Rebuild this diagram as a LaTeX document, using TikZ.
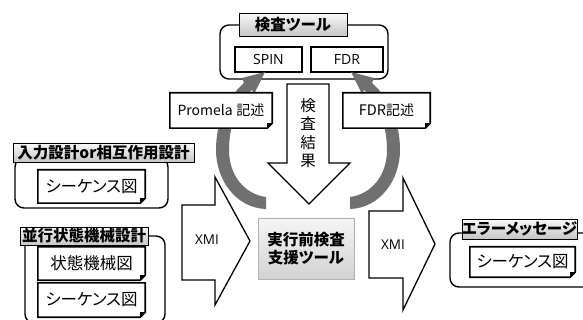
\documentclass[tikz,border=0pt]{standalone}
\usepackage{fontspec}
\setmainfont{Open Sans}
\newfontfamily\jp{Noto Sans CJK JP}[RawFeature=+palt]
\definecolor{arcgray}{RGB}{112,112,112}
\newcommand\fs[1]{\fontsize{#1}{#1}\selectfont}
\newcommand\noteframe[1]{%
  \draw[nf] (#1.north west) -- (#1.north east) -- ([yshift=5pt]#1.south east) -- ([xshift=-5pt]#1.south east) -- (#1.south west) -- cycle;
  \fill ([yshift=5pt]#1.south east) -- ([xshift=-5pt]#1.south east) -- ([xshift=-5pt,yshift=5pt]#1.south east) -- cycle;}
\begin{document}
\begin{tikzpicture}[x=1pt,y=-1pt,
  grp/.style={draw, line width=1.4pt, rounded corners=9pt},
  lbl/.style={draw, line width=0.8pt, top color=gray!5, bottom color=gray!45, inner sep=0pt, font=\jp\bfseries\fs{15.5}},
  notebox/.style={fill=white, inner sep=0pt, font=\jp\fs{16.5}},
  nf/.style={line width=1.6pt, line join=miter},
  plainbox/.style={draw, fill=white, line width=1.6pt, inner sep=0pt, font=\fs{14}},
  blockarrow/.style={draw, fill=white, line width=1.3pt, line join=miter},
  lat/.style={font=\fs{13.5}},
  corebox/.style={draw=gray!60, line width=0.9pt, top color=gray!8, bottom color=gray!35, inner sep=0pt, align=center, font=\jp\bfseries\fontsize{15.5}{18}\selectfont}
]
\useasboundingbox (0,0) rectangle (583,320);
\clip (0,0) rectangle (583,320);

% ---- checking tools group
\draw[grp] (220,25) rectangle (388,79);
\node[plainbox, minimum width=67pt, minimum height=25pt] (spin) at (268.5,59.5) {SPIN};
\node[plainbox, minimum width=72pt, minimum height=25pt] (fdr) at (347,59.5) {FDR};
\node[lbl, minimum width=108pt, minimum height=23pt] (tool) at (293,24.5) {検査ツール};

% ---- curved grey arrows
\begin{scope}
\fill[arcgray] (266,209) .. controls (236,208) and (216,180) .. (216,150)
  .. controls (216,120) and (228,97) .. (244,83) -- (242,78) -- (265,72) -- (254,94) -- (252,90)
  .. controls (238,102) and (229,125) .. (229,150) .. controls (229,175) and (244,194) .. (266,197) -- cycle;
\end{scope}
\begin{scope}[shift={(616,0)}, xscale=-1]
\fill[arcgray] (266,209) .. controls (236,208) and (216,180) .. (216,150)
  .. controls (216,120) and (228,97) .. (244,83) -- (242,78) -- (265,72) -- (254,94) -- (252,90)
  .. controls (238,102) and (229,125) .. (229,150) .. controls (229,175) and (244,194) .. (266,197) -- cycle;
\end{scope}

% ---- description notes
\node[notebox, minimum width=102pt, minimum height=35pt] (prom) at (221,110.5) {{\fs{14}Promela} {\jp\fs{14}記述}};
\noteframe{prom}
\node[notebox, minimum width=87pt, minimum height=35pt] (fdrd) at (386.5,110.5) {{\fs{14.5}FDR}{\jp\fs{14}記述}};
\noteframe{fdrd}

% ---- result arrow
\draw[blockarrow] (287,84) -- (329,84) -- (329,163) -- (350,163) -- (309,204) -- (268,163) -- (287,163) -- cycle;
\node[font=\jp\fontsize{15.5}{18.5}\selectfont, align=center, inner sep=0pt] (kekka) at (308,133) {検\\査\\結\\果};

% ---- left groups
\draw[grp] (15,158) rectangle (168,208);
\node[lbl, minimum width=181pt, minimum height=19pt] (in1) at (103.5,152.5) {入力設計or相互作用設計};
\node[notebox, minimum width=107pt, minimum height=33pt] (seq1) at (91.5,186.5) {シーケンス図};
\noteframe{seq1}

\draw[grp] (25,236) rectangle (165,323);
\node[lbl, minimum width=128pt, minimum height=18pt] (in2) at (84,236) {並行状態機械設計};
\node[notebox, minimum width=107pt, minimum height=33pt] (sm) at (91.5,263.5) {状態機械図};
\noteframe{sm}
\node[notebox, minimum width=107pt, minimum height=34pt] (seq2) at (91.5,300) {シーケンス図};
\noteframe{seq2}

% ---- XMI arrows
\draw[blockarrow] (182,205) -- (215,205) -- (215,177) -- (250,241) -- (215,305) -- (215,280) -- (182,280) -- cycle;
\node[lat] (xmi1) at (207,240) {XMI};
\draw[blockarrow] (369,211) -- (403,211) -- (403,178) -- (435,244) -- (403,310) -- (403,278) -- (369,278) -- cycle;
\node[lat] (xmi2) at (393,245) {XMI};

% ---- core tool
\node[corebox, minimum width=96pt, minimum height=61pt] (core) at (306,248.5) {実行前検査\\支援ツール};

% ---- error group
\draw[grp] (450,233) rectangle (600,287);
\node[lbl, minimum width=115pt, minimum height=20pt] (err) at (519.5,229) {エラーメッセージ};
\node[notebox, minimum width=105pt, minimum height=30pt] (seq3) at (522.5,262) {シーケンス図};
\noteframe{seq3}
\end{tikzpicture}
\end{document}
